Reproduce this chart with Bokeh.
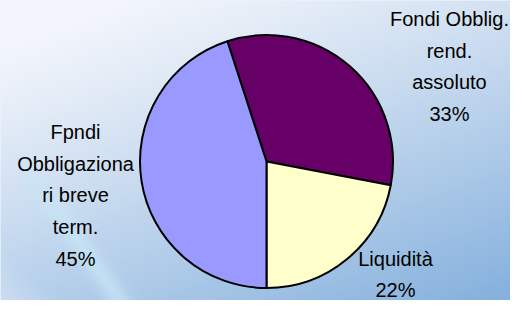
import numpy as np
from bokeh.plotting import figure
from bokeh.models import Range1d, ColumnDataSource
from bokeh.core.properties import value
from bokeh.embed import file_html
from bokeh.resources import INLINE

# ---- data ----
names = ["Fondi Obblig.\nrend.\nassoluto", "Liquidità", "Fpndi\nObbligaziona\nri breve\nterm."]
shares = [33, 22, 45]
colors = ["#660066", "#FFFFCC", "#9999FF"]

# ---- layout (reference pixel coords) ----
W, H = 510, 300
cx_pix, cy_pix, rad = 266, 161, 126.5
start_deg = 342.0  # clockwise from 12 o'clock
label_pos = [(449, 66), (395, 274), (75, 195)]

def ydat(ypix):
    return H - ypix

p = figure(width=W, height=H, output_backend="svg", toolbar_location=None,
           x_range=Range1d(0, W), y_range=Range1d(0, H), min_border=0)
p.axis.visible = False
p.grid.visible = False
p.outline_line_color = None
p.background_fill_color = "#dde8f5"
p.border_fill_color = "#dde8f5"

# ---- background gradient ----
xs = np.arange(0, W) + 0.5
ys = np.arange(0, H) + 0.5
X, Y = np.meshgrid(xs, ys)
t = np.clip(0.45 * X / 526 + 0.72 * Y / 316 - 0.12, 0, 1) ** 1.1
c0 = np.array([242, 245, 251], float)
c1 = np.array([132, 176, 221], float)
img = c0[None, None, :] * (1 - t[..., None]) + c1[None, None, :] * t[..., None]
# light swoosh band (lower left)
ax0, ay0, ax1, ay1 = 25.0, 165.0, 140.0, 330.0
dx, dy = ax1 - ax0, ay1 - ay0
L = np.hypot(dx, dy)
dist = np.abs((X - ax0) * dy - (Y - ay0) * dx) / L
band = np.exp(-(dist / 11.0) ** 2) * np.clip((Y - 150) / 40, 0, 1)
bandc = np.array([200, 230, 246], float)
img = img * (1 - 0.7 * band[..., None]) + bandc * 0.7 * band[..., None]
# lighter corner lower-left
dist2 = ((X + 10) * 1.0 + (316 - Y) * 1.2)
corner = np.clip((90 - dist2) / 60, 0, 1) * np.clip((Y - 200) / 40, 0, 1)
img = img * (1 - 0.5 * corner[..., None]) + np.array([225, 235, 246.0]) * 0.5 * corner[..., None]
img = np.clip(img, 0, 255).astype(np.uint8)
rgba = np.zeros((H, W), dtype=np.uint32)
view = rgba.view(dtype=np.uint8).reshape((H, W, 4))
view[..., 0] = img[..., 0]
view[..., 1] = img[..., 1]
view[..., 2] = img[..., 2]
view[..., 3] = 255
rgba = rgba[::-1]
p.image_rgba(image=[rgba], x=0, y=0, dw=W, dh=H)

# ---- pie ----
total = float(sum(shares))
cum = np.cumsum([0] + shares) / total * 360.0
theta_s = start_deg + cum[:-1]
theta_e = start_deg + cum[1:]
sa = np.deg2rad(90 - theta_s)
ea = np.deg2rad(90 - theta_e)
src = ColumnDataSource(dict(sa=sa, ea=ea, color=colors))
p.wedge(x=cx_pix, y=ydat(cy_pix), radius=rad, start_angle="sa", end_angle="ea",
        direction="clock", fill_color="color", line_color="black", line_width=2,
        source=src)

# ---- labels ----
texts = [f"{n}\n{s}%" for n, s in zip(names, shares)]
lsrc = ColumnDataSource(dict(x=[q[0] for q in label_pos], y=[ydat(q[1]) for q in label_pos], t=texts))
p.text(x="x", y="y", text="t", source=lsrc, text_align="center", text_baseline="middle",
       text_font=value("Liberation Sans"), text_font_size="20px", text_color="black",
       text_line_height=1.45)

open("out.html", "w").write(file_html(p, INLINE))
